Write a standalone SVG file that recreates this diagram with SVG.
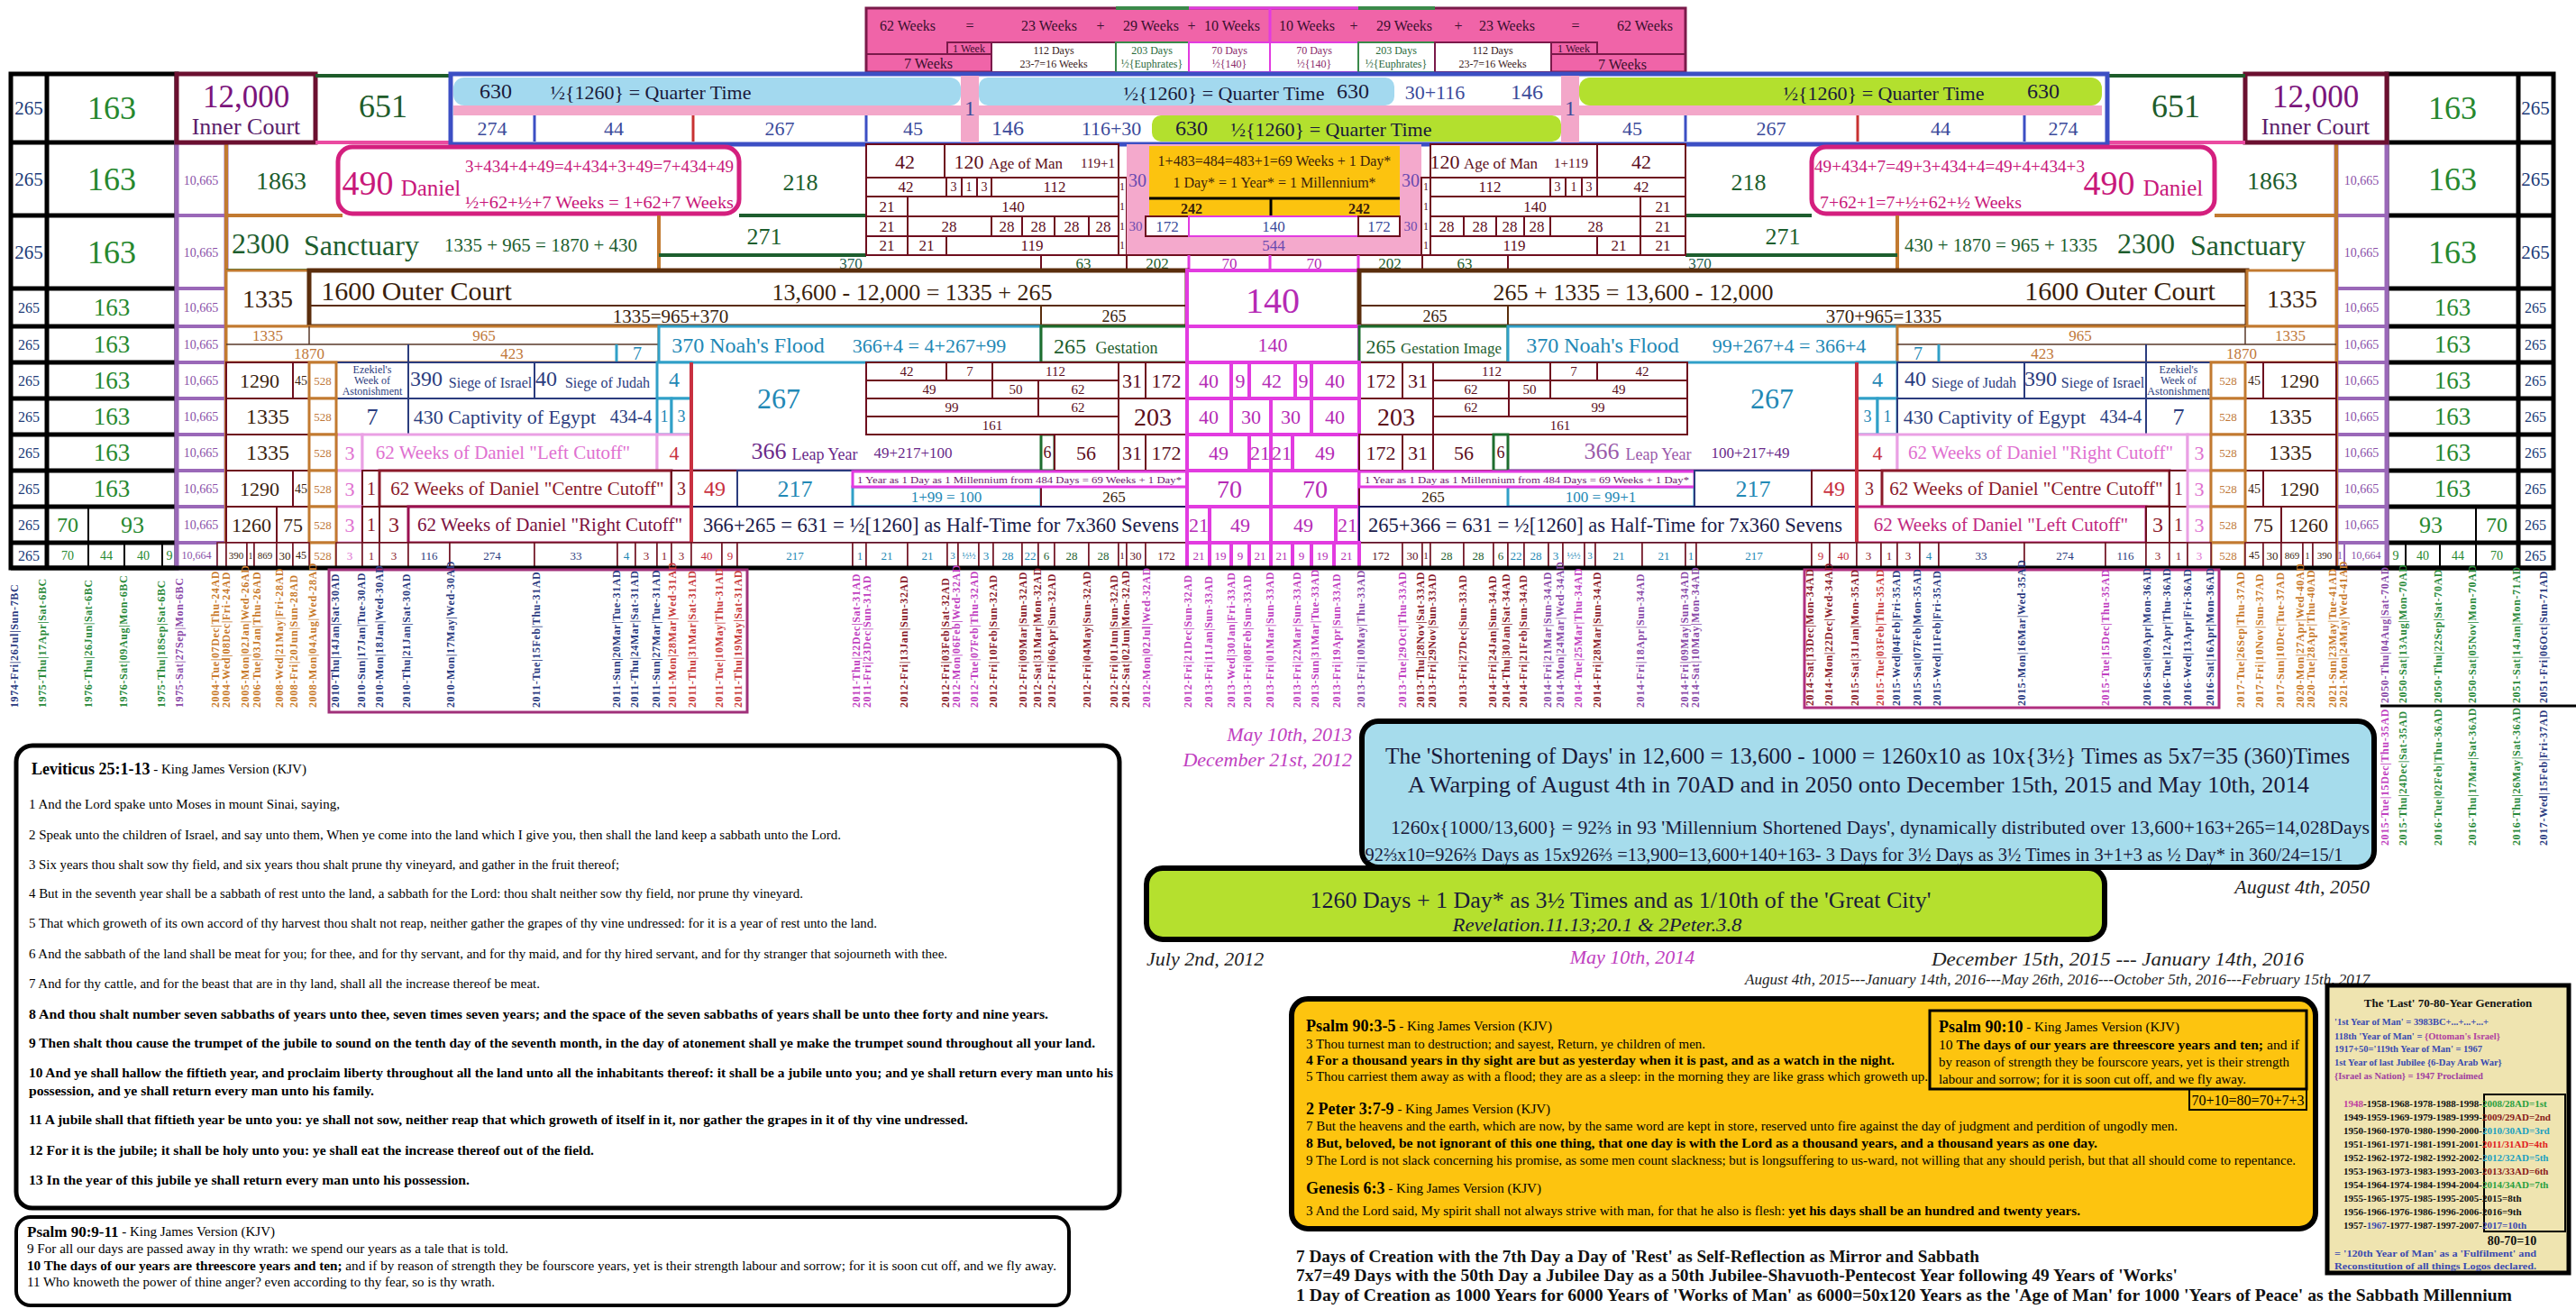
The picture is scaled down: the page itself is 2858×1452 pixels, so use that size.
<svg xmlns="http://www.w3.org/2000/svg" width="2858" height="1452" viewBox="0 0 2858 1452">
<style>
text{font-family:"Liberation Serif","Times New Roman",serif;text-anchor:middle;dominant-baseline:central}
.s,.s text{text-anchor:start}.e,.e text{text-anchor:end}.i{font-style:italic}.bd{font-weight:bold}
.d{fill:#fff;stroke:#6e0e1e;stroke-width:2}
.o{fill:#fff;stroke:#c27a30;stroke-width:3}
.n{fill:#fff;stroke:#2b3c7e;stroke-width:2}
.t{fill:#fff;stroke:#30a0c8;stroke-width:3}
.g{fill:#fff;stroke:#1d6e2e;stroke-width:3}
.m{fill:#fff;stroke:#e23be0;stroke-width:4}
.pk{fill:#fff;stroke:#eaa0e4;stroke-width:3}
.cr{fill:#fff;stroke:#8b1a2a;stroke-width:3}
.c1{fill:#213c78}.c2{fill:#26882e}.pu{fill:#8a50a8}.dg{fill:#1d5e2e}.dr{fill:#5c0d1a}.mg{fill:#b52bb5}
.te{fill:#2288b5}.nv{fill:#2b3c7e}.or{fill:#c0783a}.br{fill:#3a1e0c}.pi{fill:#e070d0}.re{fill:#c83040}
.dk{fill:#1a1a3a}.bl{fill:#3b4a9a}.pb{fill:#6a4ab0}.cc{fill:#8b1a2a}
.dl{font-size:12px;font-weight:bold;letter-spacing:0.6px;text-anchor:start}
.ln{fill:#2a3a80}.lg{fill:#2a8a3a}.lp{fill:#8a4aa8}.lo{fill:#c87a2a}.lm{fill:#c040c0}.ld{fill:#8a1a2a}.lr{fill:#c83a3a}
.bx{stroke:#000;stroke-width:6}
.p15{font-size:15px}
</style>
<rect width="2858" height="1452" fill="#fff"/>

<!-- HEADER -->
<g id="header">
<rect x="961" y="9" width="909" height="71" fill="#f064a8" stroke="#7a1a4a" stroke-width="3"/>
<path d="M1238 9H1319M1507 9H1592" stroke="#3a8a4a" stroke-width="4"/>
<path d="M1319 9H1507M1409 9V80" stroke="#e23be0" stroke-width="3"/>
<g font-size="16" fill="#3a0f2e">
<text x="1007" y="28">62 Weeks</text><text x="1076" y="28">=</text><text x="1164" y="28">23 Weeks</text><text x="1221" y="28">+</text><text x="1277" y="28">29 Weeks</text><text x="1322" y="28">+</text><text x="1367" y="28">10 Weeks</text>
<text x="1450" y="28">10 Weeks</text><text x="1502" y="28">+</text><text x="1558" y="28">29 Weeks</text><text x="1618" y="28">+</text><text x="1672" y="28">23 Weeks</text><text x="1748" y="28">=</text><text x="1825" y="28">62 Weeks</text>
</g>
<path d="M961 60H1100M1721 60H1870" stroke="#7a1a4a" stroke-width="2"/>
<rect x="1051" y="47" width="49" height="13" fill="#f064a8" stroke="#7a1a4a" stroke-width="2"/><text x="1075" y="54" font-size="12" fill="#3a0f2e">1 Week</text>
<rect x="1721" y="47" width="51" height="13" fill="#f064a8" stroke="#7a1a4a" stroke-width="2"/><text x="1746" y="54" font-size="12" fill="#3a0f2e">1 Week</text>
<text x="1030" y="70" font-size="16" fill="#3a0f2e">7 Weeks</text><text x="1800" y="71" font-size="16" fill="#3a0f2e">7 Weeks</text>
<rect x="1100" y="47" width="138" height="33" fill="#fff" stroke="#7a1a4a" stroke-width="2"/>
<rect x="1238" y="47" width="81" height="33" fill="#fff" stroke="#3a8a4a" stroke-width="2"/>
<rect x="1319" y="47" width="90" height="33" fill="#fff" stroke="#e23be0" stroke-width="2"/>
<rect x="1409" y="47" width="98" height="33" fill="#fff" stroke="#e23be0" stroke-width="2"/>
<rect x="1507" y="47" width="85" height="33" fill="#fff" stroke="#3a8a4a" stroke-width="2"/>
<rect x="1592" y="47" width="129" height="33" fill="#fff" stroke="#7a1a4a" stroke-width="2"/>
<g font-size="12">
<text x="1169" y="56" fill="#3a2020">112 Days</text><text x="1169" y="71" fill="#3a2020">23-7=16 Weeks</text>
<text x="1278" y="56" fill="#2a6a3a">203 Days</text><text x="1278" y="71" fill="#2a6a3a">½{Euphrates}</text>
<text x="1364" y="56" fill="#8a2a6a">70 Days</text><text x="1364" y="71" fill="#8a2a6a">½{140}</text>
<text x="1458" y="56" fill="#8a2a6a">70 Days</text><text x="1458" y="71" fill="#8a2a6a">½{140}</text>
<text x="1549" y="56" fill="#2a6a3a">203 Days</text><text x="1549" y="71" fill="#2a6a3a">½{Euphrates}</text>
<text x="1656" y="56" fill="#3a2020">112 Days</text><text x="1656" y="71" fill="#3a2020">23-7=16 Weeks</text>
</g>
</g>

<!-- OUTER LEFT COLUMNS -->
<g id="left-columns">
<rect x="12" y="82" width="184" height="548" fill="#fff" stroke="#000" stroke-width="5"/>
<path d="M52 82V630M12 158H196M12 239H196M12 320H196M12 362H196M12 402H196M12 442H196M12 482H196M12 522H196M12 562H196M12 602H196" stroke="#000" stroke-width="5" fill="none"/>
<path d="M98 562V630M138 602V630M180 602V630" stroke="#000" stroke-width="2"/>
<g class="c1" font-size="21"><text x="32" y="120">265</text><text x="32" y="199">265</text><text x="32" y="280">265</text></g>
<g class="c1" font-size="16"><text x="32" y="341">265</text><text x="32" y="382">265</text><text x="32" y="422">265</text><text x="32" y="462">265</text><text x="32" y="502">265</text><text x="32" y="542">265</text><text x="32" y="582">265</text><text x="32" y="616">265</text></g>
<g class="c2" font-size="36"><text x="124" y="120">163</text><text x="124" y="199">163</text><text x="124" y="280">163</text></g>
<g class="c2" font-size="27"><text x="124" y="341">163</text><text x="124" y="382">163</text><text x="124" y="422">163</text><text x="124" y="462">163</text><text x="124" y="502">163</text><text x="124" y="542">163</text></g>
<text x="75" y="582" font-size="24" class="c2">70</text><text x="147" y="582" font-size="26" class="c2">93</text>
<g class="c2" font-size="14"><text x="75" y="616">70</text><text x="118" y="616">44</text><text x="159" y="616">40</text><text x="188" y="616">9</text></g>
</g>

<!-- OUTER RIGHT COLUMNS -->
<g id="right-columns">
<rect x="2648" y="82" width="185" height="548" fill="#fff" stroke="#000" stroke-width="5"/>
<path d="M2794 82V630M2648 158H2833M2648 239H2833M2648 320H2833M2648 362H2833M2648 402H2833M2648 442H2833M2648 482H2833M2648 522H2833M2648 562H2833M2648 602H2833" stroke="#000" stroke-width="5" fill="none"/>
<path d="M2747 562V630M2669 602V630M2707 602V630" stroke="#000" stroke-width="2"/>
<g class="c1" font-size="21"><text x="2813" y="120">265</text><text x="2813" y="199">265</text><text x="2813" y="280">265</text></g>
<g class="c1" font-size="16"><text x="2813" y="341">265</text><text x="2813" y="382">265</text><text x="2813" y="422">265</text><text x="2813" y="462">265</text><text x="2813" y="502">265</text><text x="2813" y="542">265</text><text x="2813" y="582">265</text><text x="2813" y="616">265</text></g>
<g class="c2" font-size="36"><text x="2721" y="120">163</text><text x="2721" y="199">163</text><text x="2721" y="280">163</text></g>
<g class="c2" font-size="27"><text x="2721" y="341">163</text><text x="2721" y="382">163</text><text x="2721" y="422">163</text><text x="2721" y="462">163</text><text x="2721" y="502">163</text><text x="2721" y="542">163</text></g>
<text x="2697" y="582" font-size="26" class="c2">93</text><text x="2770" y="582" font-size="24" class="c2">70</text>
<g class="c2" font-size="14"><text x="2658" y="616">9</text><text x="2688" y="616">40</text><text x="2727" y="616">44</text><text x="2770" y="616">70</text></g>
</g>

<!-- PURPLE 10,665 COLUMNS -->
<g id="purple-columns">
<rect x="196" y="158" width="55" height="472" fill="#fff" stroke="#9a68b8" stroke-width="5"/>
<rect x="2592" y="158" width="56" height="472" fill="#fff" stroke="#9a68b8" stroke-width="5"/>
<path d="M196 239H251M196 320H251M196 362H251M196 402H251M196 442H251M196 482H251M196 522H251M196 562H251M196 602H251M2592 239H2648M2592 320H2648M2592 362H2648M2592 402H2648M2592 442H2648M2592 482H2648M2592 522H2648M2592 562H2648M2592 602H2648" stroke="#9a68b8" stroke-width="4"/>
<path d="M241 602V630M2601 602V630" stroke="#9a68b8" stroke-width="2"/>
<g class="pu" font-size="14"><text x="223" y="200">10,665</text><text x="223" y="280">10,665</text><text x="223" y="341">10,665</text><text x="223" y="382">10,665</text><text x="223" y="422">10,665</text><text x="223" y="462">10,665</text><text x="223" y="502">10,665</text><text x="223" y="542">10,665</text><text x="223" y="582">10,665</text>
<text x="2620" y="200">10,665</text><text x="2620" y="280">10,665</text><text x="2620" y="341">10,665</text><text x="2620" y="382">10,665</text><text x="2620" y="422">10,665</text><text x="2620" y="462">10,665</text><text x="2620" y="502">10,665</text><text x="2620" y="542">10,665</text><text x="2620" y="582">10,665</text></g>
<g class="pu" font-size="12"><text x="218" y="616">10,664</text><text x="246" y="616">1</text><text x="2596" y="616">1</text><text x="2625" y="616">10,664</text></g>
<path d="M251 158V630M2592 158V630" stroke="#c27a30" stroke-width="4"/>
</g>

<!-- INNER COURT & 651 -->
<g id="inner-court-left">
<rect x="196" y="82" width="154" height="76" fill="#fff" stroke="#6b1030" stroke-width="5"/>
<text x="273" y="107" font-size="35" fill="#7b147b">12,000</text><text x="273" y="140" font-size="26" fill="#5a1c6a">Inner Court</text>
</g>
<g id="n651-left">
<path d="M350 84H500" stroke="#1e5c2a" stroke-width="4"/><path d="M350 158H500" stroke="#ea4aa0" stroke-width="4"/>
<text x="425" y="118" font-size="36" fill="#1e5c2a">651</text>
</g>
<g id="inner-court-right">
<rect x="2491" y="82" width="157" height="76" fill="#fff" stroke="#6b1030" stroke-width="5"/>
<text x="2569" y="107" font-size="35" fill="#7b147b">12,000</text><text x="2569" y="140" font-size="26" fill="#5a1c6a">Inner Court</text>
</g>
<g id="n651-right">
<path d="M2338 84H2491" stroke="#1e5c2a" stroke-width="4"/><path d="M2338 158H2491" stroke="#ea4aa0" stroke-width="4"/>
<text x="2414" y="118" font-size="36" fill="#1e5c2a">651</text>
</g>

<!-- QUARTER TIME BLUE REGION -->
<g id="quarter-time">
<rect x="500" y="82" width="1838" height="78" fill="#fff" stroke="#3c4fc4" stroke-width="5"/>
<rect x="503" y="86" width="563" height="31" rx="12" fill="#a3d9ef"/>
<text x="550" y="101" font-size="24" class="dk">630</text><text x="722" y="102" font-size="22" class="dk">½{1260} = Quarter Time</text>
<rect x="503" y="117" width="563" height="11" fill="#f3a7c9"/>
<path d="M593 128V157M961 128V157" stroke="#3c4fc4" stroke-width="3"/><path d="M769 128V157" stroke="#c83232" stroke-width="3"/>
<g class="bl" font-size="22"><text x="546" y="142">274</text><text x="681" y="142">44</text><text x="865" y="142">267</text><text x="1013" y="142">45</text></g>
<rect x="1066" y="84" width="20" height="74" fill="#f3a7c9"/><text x="1076" y="120" font-size="24" class="bl">1</text>
<rect x="1086" y="86" width="461" height="31" rx="10" fill="#a3d9ef"/>
<text x="1358" y="103" font-size="22" class="dk">½{1260} = Quarter Time</text><text x="1501" y="101" font-size="24" class="dk">630</text>
<text x="1592" y="102" font-size="22" class="bl">30+116</text><text x="1694" y="102" font-size="24" class="bl">146</text>
<rect x="1086" y="117" width="646" height="11" fill="#f3a7c9"/>
<text x="1118" y="142" font-size="24" class="bl">146</text><text x="1233" y="142" font-size="22" class="bl">116+30</text>
<rect x="1278" y="128" width="454" height="29" rx="10" fill="#b3e02e"/>
<text x="1322" y="142" font-size="24" class="dk">630</text><text x="1477" y="143" font-size="22" class="dk">½{1260} = Quarter Time</text>
<rect x="1732" y="84" width="20" height="74" fill="#f3a7c9"/><text x="1742" y="120" font-size="24" class="bl">1</text>
<rect x="1752" y="86" width="580" height="31" rx="12" fill="#b3e02e"/>
<text x="2090" y="103" font-size="22" class="dk">½{1260} = Quarter Time</text><text x="2267" y="101" font-size="24" class="dk">630</text>
<rect x="1752" y="117" width="580" height="11" fill="#f3a7c9"/>
<path d="M1870 128V157M2246 128V157" stroke="#3c4fc4" stroke-width="3"/><path d="M2061 128V157" stroke="#c83232" stroke-width="3"/>
<g class="bl" font-size="22"><text x="1811" y="142">45</text><text x="1965" y="142">267</text><text x="2153" y="142">44</text><text x="2289" y="142">274</text></g>
</g>

<!-- ROW 2-3 LEFT -->
<g id="row2-left">
<text x="312" y="200" font-size="28" class="dg">1863</text>
<path d="M251 239H380" stroke="#c27a30" stroke-width="4"/><path d="M820 239H961" stroke="#1d5e2e" stroke-width="4"/>
<text x="888" y="202" font-size="26" class="dg">218</text>
</g>
<g id="daniel-left">
<rect x="375" y="163" width="445" height="74" rx="16" fill="#fff" stroke="#d41f7e" stroke-width="5"/>
<text x="408" y="203" font-size="38" fill="#c8187a">490</text><text x="478" y="208" font-size="25" fill="#c8187a">Daniel</text>
<text x="665" y="184" font-size="19" fill="#c8187a" textLength="298" lengthAdjust="spacingAndGlyphs">3+434+4+49=4+434+3+49=7+434+49</text>
<text x="665" y="224" font-size="19" fill="#c8187a" textLength="298" lengthAdjust="spacingAndGlyphs">½+62+½+7 Weeks = 1+62+7 Weeks</text>
</g>
<g id="sanctuary-left">
<path d="M731 239V300" stroke="#c27a30" stroke-width="4"/>
<text x="289" y="270" font-size="32" class="dg">2300</text><text x="401" y="272" font-size="32" class="dg">Sanctuary</text>
<text x="600" y="272" font-size="21" class="dg">1335 + 965 = 1870 + 430</text>
<text x="848" y="262" font-size="26" class="dg">271</text>
<path d="M731 283H961" stroke="#1d5e2e" stroke-width="4"/>
<text x="944" y="292" font-size="17" fill="#1d5e4e">370</text>
</g>

<!-- ROW 2-3 RIGHT -->
<g id="row2-right">
<text x="2521" y="200" font-size="28" class="dg">1863</text>
<path d="M2457 239H2592" stroke="#c27a30" stroke-width="4"/><path d="M1870 239H2010" stroke="#1d5e2e" stroke-width="4"/>
<text x="1940" y="202" font-size="26" class="dg">218</text>
</g>
<g id="daniel-right">
<rect x="2010" y="163" width="447" height="74" rx="16" fill="#fff" stroke="#d41f7e" stroke-width="5"/>
<text x="2163" y="184" font-size="19" fill="#c8187a" textLength="300" lengthAdjust="spacingAndGlyphs">49+434+7=49+3+434+4=49+4+434+3</text>
<text x="2131" y="224" font-size="19" fill="#c8187a" textLength="224" lengthAdjust="spacingAndGlyphs">7+62+1=7+½+62+½ Weeks</text>
<text x="2340" y="203" font-size="38" fill="#c8187a">490</text><text x="2411" y="208" font-size="25" fill="#c8187a">Daniel</text>
</g>
<g id="sanctuary-right">
<path d="M2105 239V300" stroke="#c27a30" stroke-width="4"/>
<text x="2220" y="272" font-size="21" class="dg">430 + 1870 = 965 + 1335</text>
<text x="2381" y="270" font-size="32" class="dg">2300</text><text x="2494" y="272" font-size="32" class="dg">Sanctuary</text>
<text x="1978" y="262" font-size="26" class="dg">271</text>
<path d="M1870 283H2105" stroke="#1d5e2e" stroke-width="4"/>
<text x="1886" y="292" font-size="17" fill="#1d5e4e">370</text>
</g>

<!-- AGE OF MAN LEFT -->
<g id="age-of-man-left">
<rect x="961" y="160" width="87" height="37" class="d"/><text x="1004" y="179" font-size="22" class="dr">42</text>
<rect x="1048" y="160" width="193" height="37" class="d"/>
<text x="1075" y="179" font-size="22" class="dr">120</text><text x="1138" y="181" font-size="17" class="dr">Age of Man</text><text x="1218" y="181" font-size="15" class="dr">119+1</text>
<rect x="961" y="197" width="89" height="21" class="d"/><rect x="1050" y="197" width="17" height="21" class="d"/><rect x="1067" y="197" width="17" height="21" class="d"/><rect x="1084" y="197" width="16" height="21" class="d"/><rect x="1100" y="197" width="141" height="21" class="d"/>
<rect x="961" y="218" width="46" height="22" class="d"/><rect x="1007" y="218" width="234" height="22" class="d"/>
<rect x="961" y="240" width="46" height="22" class="d"/><rect x="1007" y="240" width="93" height="22" class="d"/><rect x="1100" y="240" width="34" height="22" class="d"/><rect x="1134" y="240" width="36" height="22" class="d"/><rect x="1170" y="240" width="38" height="22" class="d"/><rect x="1208" y="240" width="33" height="22" class="d"/>
<rect x="961" y="262" width="46" height="21" class="d"/><rect x="1007" y="262" width="43" height="21" class="d"/><rect x="1050" y="262" width="191" height="21" class="d"/>
<rect x="1241" y="197" width="9" height="86" class="d"/>
<g class="dr" font-size="17"><text x="1005" y="207">42</text><text x="1170" y="207">112</text><text x="984" y="229">21</text><text x="1124" y="229">140</text>
<text x="984" y="251">21</text><text x="1053" y="251">28</text><text x="1117" y="251">28</text><text x="1152" y="251">28</text><text x="1189" y="251">28</text><text x="1224" y="251">28</text>
<text x="984" y="272">21</text><text x="1028" y="272">21</text><text x="1145" y="272">119</text></g>
<g class="dr" font-size="14"><text x="1058" y="207">3</text><text x="1075" y="207">1</text><text x="1092" y="207">3</text></g>
<g class="dr" font-size="12"><text x="1245" y="207">1</text><text x="1245" y="229">1</text><text x="1245" y="251">1</text><text x="1245" y="272">1</text></g>
</g>

<!-- CENTER TOP -->
<g id="center-top">
<rect x="1250" y="160" width="327" height="123" fill="#f4a9cc"/>
<text x="1262" y="200" font-size="20" class="pb">30</text><text x="1565" y="200" font-size="20" class="pb">30</text>
<rect x="1275" y="162" width="278" height="78" fill="#fcc30f"/>
<text x="1414" y="178" font-size="16" class="br">1+483=484=483+1=69 Weeks + 1 Day*</text>
<text x="1414" y="202" font-size="16" class="br">1 Day* = 1 Year* = 1 Millennium*</text>
<path d="M1275 220H1553M1410 220V240" stroke="#000" stroke-width="3"/>
<text x="1322" y="231" font-size="16" class="br bd">242</text><text x="1508" y="231" font-size="16" class="br bd">242</text>
<text x="1260" y="251" font-size="15" class="pb">30</text><text x="1565" y="251" font-size="15" class="pb">30</text>
<rect x="1271" y="240" width="48" height="22" class="d"/><text x="1295" y="251" font-size="17" class="bl">172</text>
<rect x="1319" y="240" width="188" height="22" fill="#fff" stroke="#e23be0" stroke-width="2"/><text x="1413" y="251" font-size="17" class="bl">140</text>
<rect x="1507" y="240" width="46" height="22" class="d"/><text x="1530" y="251" font-size="17" class="bl">172</text>
<text x="1413" y="272" font-size="17" class="pb">544</text>
</g>

<!-- AGE OF MAN RIGHT -->
<g id="age-of-man-right">
<rect x="1587" y="160" width="185" height="37" class="d"/>
<text x="1603" y="179" font-size="22" class="dr">120</text><text x="1665" y="181" font-size="17" class="dr">Age of Man</text><text x="1743" y="181" font-size="15" class="dr">1+119</text>
<rect x="1772" y="160" width="98" height="37" class="d"/><text x="1821" y="179" font-size="22" class="dr">42</text>
<rect x="1587" y="197" width="133" height="21" class="d"/><rect x="1720" y="197" width="17" height="21" class="d"/><rect x="1737" y="197" width="18" height="21" class="d"/><rect x="1755" y="197" width="17" height="21" class="d"/><rect x="1772" y="197" width="98" height="21" class="d"/>
<rect x="1587" y="218" width="233" height="22" class="d"/><rect x="1820" y="218" width="50" height="22" class="d"/>
<rect x="1587" y="240" width="37" height="22" class="d"/><rect x="1624" y="240" width="36" height="22" class="d"/><rect x="1660" y="240" width="31" height="22" class="d"/><rect x="1691" y="240" width="29" height="22" class="d"/><rect x="1720" y="240" width="100" height="22" class="d"/><rect x="1820" y="240" width="50" height="22" class="d"/>
<rect x="1587" y="262" width="185" height="21" class="d"/><rect x="1772" y="262" width="48" height="21" class="d"/><rect x="1820" y="262" width="50" height="21" class="d"/>
<rect x="1577" y="197" width="10" height="86" class="d"/>
<g class="dr" font-size="17"><text x="1653" y="207">112</text><text x="1821" y="207">42</text><text x="1703" y="229">140</text><text x="1845" y="229">21</text>
<text x="1605" y="251">28</text><text x="1642" y="251">28</text><text x="1675" y="251">28</text><text x="1705" y="251">28</text><text x="1770" y="251">28</text><text x="1845" y="251">21</text>
<text x="1680" y="272">119</text><text x="1796" y="272">21</text><text x="1845" y="272">21</text></g>
<g class="dr" font-size="14"><text x="1728" y="207">3</text><text x="1746" y="207">1</text><text x="1763" y="207">3</text></g>
<g class="dr" font-size="12"><text x="1582" y="207">1</text><text x="1582" y="229">1</text><text x="1582" y="251">1</text><text x="1582" y="272">1</text></g>
</g>

<!-- STRIP 283-300 -->
<g id="strip-283">
<path d="M961 283H1870M1155 283V300M1250 283V300M1578 283V300M1673 283V300" stroke="#6e0e1e" stroke-width="2"/>
<path d="M1319 283V300M1409 283V300M1507 283V300" stroke="#e23be0" stroke-width="3"/>
<g font-size="17"><text x="1202" y="292" class="dg">63</text><text x="1284" y="292" class="dg">202</text><text x="1364" y="292" class="mg">70</text><text x="1458" y="292" class="mg">70</text><text x="1542" y="292" class="dg">202</text><text x="1625" y="292" class="dg">63</text></g>
</g>

<!-- ROW 4: OUTER COURT -->
<g id="outer-court-left">
<path d="M251 300H343" stroke="#1d6e2e" stroke-width="4"/>
<rect x="251" y="300" width="92" height="62" class="o"/><text x="297" y="331" font-size="28" class="br">1335</text>
<rect x="343" y="300" width="974" height="62" fill="#fff" stroke="#5a2d0c" stroke-width="5"/>
<text x="462" y="322" font-size="30" class="br">1600 Outer Court</text>
<text x="1012" y="324" font-size="26" class="br">13,600 - 12,000 = 1335 + 265</text>
<path d="M343 339H1317M1155 339V362" stroke="#5a2d0c" stroke-width="2"/>
<text x="744" y="351" font-size="21" class="br">1335=965+370</text><text x="1236" y="351" font-size="18" class="br">265</text>
</g>
<g id="center-140">
<rect x="1317" y="300" width="191" height="62" class="m"/><text x="1412" y="333" font-size="40" class="mg">140</text>
</g>
<g id="outer-court-right">
<rect x="1508" y="300" width="985" height="62" fill="#fff" stroke="#5a2d0c" stroke-width="5"/>
<text x="1812" y="324" font-size="26" class="br">265 + 1335 = 13,600 - 12,000</text>
<text x="2352" y="322" font-size="30" class="br">1600 Outer Court</text>
<path d="M1508 339H2493M1673 339V362" stroke="#5a2d0c" stroke-width="2"/>
<text x="1592" y="351" font-size="18" class="br">265</text><text x="2090" y="351" font-size="21" class="br">370+965=1335</text>
<rect x="2493" y="300" width="99" height="62" class="o"/><text x="2543" y="331" font-size="28" class="br">1335</text>
</g>

<!-- ROW 5 -->
<g id="row5-left">
<rect x="251" y="362" width="480" height="40" class="o"/>
<path d="M251 382H731M343 362V382" stroke="#5a3a2a" stroke-width="1.5"/><path d="M453 382V402" stroke="#2b3c7e" stroke-width="2"/><path d="M684 382V402" stroke="#30a0c8" stroke-width="3"/>
<g class="or" font-size="17"><text x="297" y="372">1335</text><text x="537" y="372">965</text><text x="343" y="392">1870</text><text x="568" y="392">423</text></g>
<text x="707" y="392" font-size="20" class="te">7</text>
</g>
<g id="noah-left">
<rect x="731" y="362" width="424" height="40" class="t"/>
<text x="830" y="383" font-size="24" class="te">370 Noah's Flood</text><text x="1031" y="383" font-size="22" class="te">366+4 = 4+267+99</text>
</g>
<g id="gestation-left">
<rect x="1155" y="362" width="162" height="40" class="g"/>
<text x="1187" y="384" font-size="24" class="dg">265</text><text x="1250" y="386" font-size="18" class="dg">Gestation</text>
</g>
<g id="center-140b"><rect x="1317" y="362" width="191" height="40" class="m"/><text x="1412" y="382" font-size="22" class="mg">140</text></g>
<g id="gestation-right">
<rect x="1508" y="362" width="165" height="40" class="g"/>
<text x="1532" y="384" font-size="22" class="dg">265</text><text x="1610" y="386" font-size="17" class="dg">Gestation Image</text>
</g>
<g id="noah-right">
<rect x="1673" y="362" width="432" height="40" class="t"/>
<text x="1778" y="383" font-size="24" class="te">370 Noah's Flood</text><text x="1985" y="383" font-size="22" class="te">99+267+4 = 366+4</text>
</g>
<g id="row5-right">
<rect x="2105" y="362" width="487" height="40" class="o"/>
<path d="M2105 382H2592M2491 362V382" stroke="#5a3a2a" stroke-width="1.5"/><path d="M2381 382V402" stroke="#2b3c7e" stroke-width="2"/><path d="M2151 382V402" stroke="#30a0c8" stroke-width="3"/>
<g class="or" font-size="17"><text x="2308" y="372">965</text><text x="2541" y="372">1335</text><text x="2266" y="392">423</text><text x="2487" y="392">1870</text></g>
<text x="2128" y="392" font-size="20" class="te">7</text>
</g>

<!-- ROWS 6-11 LEFT -->
<g id="rows-left">
<rect x="251" y="402" width="74" height="40" class="d"/><text x="288" y="422" font-size="22" class="br">1290</text>
<rect x="325" y="402" width="18" height="40" class="d"/><text x="334" y="422" font-size="14" class="br">45</text>
<rect x="373" y="402" width="80" height="40" class="n"/>
<g class="nv" font-size="12"><text x="413" y="410">Ezekiel's</text><text x="413" y="422">Week of</text><text x="413" y="434">Astonishment</text></g>
<rect x="453" y="402" width="140" height="40" class="n"/><text x="473" y="420" font-size="24" class="nv">390</text><text x="544" y="424" font-size="16" class="nv">Siege of Israel</text>
<rect x="593" y="402" width="136" height="40" class="n"/><text x="606" y="420" font-size="24" class="nv">40</text><text x="674" y="424" font-size="16" class="nv">Siege of Judah</text>
<rect x="729" y="402" width="38" height="40" class="t"/><text x="748" y="421" font-size="24" class="te">4</text>
<text x="864" y="442" font-size="32" class="te">267</text>

<rect x="251" y="442" width="92" height="40" class="d"/><text x="297" y="462" font-size="24" class="br">1335</text>
<rect x="373" y="442" width="80" height="40" class="n"/><text x="413" y="462" font-size="26" class="nv">7</text>
<rect x="453" y="442" width="276" height="40" class="n"/><text x="560" y="462" font-size="22" class="nv">430 Captivity of Egypt</text><text x="700" y="462" font-size="20" class="nv">434-4</text>
<rect x="729" y="442" width="16" height="40" class="t"/><text x="737" y="462" font-size="18" class="te">1</text>
<rect x="745" y="442" width="22" height="40" class="t"/><text x="756" y="462" font-size="18" class="te">3</text>

<rect x="251" y="482" width="92" height="40" class="d"/><text x="297" y="502" font-size="24" class="br">1335</text>
<rect x="373" y="482" width="29" height="40" class="pk"/><text x="388" y="502" font-size="22" class="pi">3</text>
<rect x="402" y="482" width="327" height="40" class="pk"/><text x="558" y="502" font-size="21" class="pi">62 Weeks of Daniel "Left Cutoff"</text>
<rect x="729" y="482" width="38" height="40" class="pk"/><text x="748" y="502" font-size="22" class="re">4</text>
<path d="M767 522H1155" stroke="#6a2a8a" stroke-width="3"/>
<text x="853" y="500" font-size="26" fill="#6a2a8a">366</text><text x="915" y="504" font-size="18" fill="#6a2a8a">Leap Year</text><text x="1013" y="502" font-size="17" fill="#6a2a8a">49+217+100</text>
<rect x="1155" y="482" width="15" height="40" class="g"/><text x="1162" y="502" font-size="18" class="dr">6</text>
<rect x="1170" y="482" width="71" height="40" class="d"/><text x="1205" y="502" font-size="22" class="dr">56</text>
<rect x="1241" y="482" width="30" height="40" class="d"/><text x="1256" y="502" font-size="22" class="dr">31</text>
<rect x="1271" y="482" width="46" height="40" class="d"/><text x="1294" y="502" font-size="22" class="dr">172</text>

<rect x="251" y="522" width="74" height="40" class="d"/><text x="288" y="542" font-size="22" class="br">1290</text>
<rect x="325" y="522" width="18" height="40" class="d"/><text x="334" y="542" font-size="14" class="br">45</text>
<rect x="373" y="522" width="29" height="40" class="pk"/><text x="388" y="542" font-size="22" class="pi">3</text>
<rect x="402" y="522" width="19" height="40" class="d"/><text x="412" y="542" font-size="20" class="cc">1</text>
<rect x="421" y="522" width="324" height="40" class="cr"/><text x="585" y="542" font-size="21" class="cc">62 Weeks of Daniel "Centre Cutoff"</text>
<rect x="745" y="522" width="22" height="40" class="d"/><text x="756" y="542" font-size="20" class="cc">3</text>
<rect x="767" y="522" width="51" height="40" class="d"/><text x="793" y="542" font-size="24" class="re">49</text>
<rect x="818" y="522" width="128" height="40" fill="#fff" stroke="#2b3c7e" stroke-width="2"/><text x="882" y="542" font-size="26" class="te">217</text>
<rect x="946" y="540" width="209" height="22" class="t"/><text x="1050" y="551" font-size="17" class="te">1+99 = 100</text>
<rect x="1155" y="540" width="162" height="22" class="d"/><text x="1236" y="551" font-size="17" class="br">265</text>
<rect x="946" y="523" width="371" height="17" fill="#fff" stroke="#e23be0" stroke-width="3"/>
<text x="1131" y="532" font-size="11" fill="#6a1a6a" textLength="360" lengthAdjust="spacingAndGlyphs">1 Year as 1 Day as 1 Millennium from 484 Days = 69 Weeks + 1 Day*</text>

<rect x="251" y="562" width="56" height="40" class="d"/><text x="279" y="582" font-size="22" class="br">1260</text>
<rect x="307" y="562" width="36" height="40" class="d"/><text x="325" y="582" font-size="22" class="br">75</text>
<rect x="373" y="562" width="29" height="40" class="pk"/><text x="388" y="582" font-size="22" class="pi">3</text>
<rect x="402" y="562" width="19" height="40" class="d"/><text x="412" y="582" font-size="20" class="cc">1</text>
<rect x="421" y="562" width="32" height="40" class="d"/><text x="437" y="582" font-size="24" class="cc">3</text>
<rect x="453" y="562" width="314" height="40" fill="#fff" stroke="#9a1050" stroke-width="3"/><text x="610" y="582" font-size="21" fill="#7a1040">62 Weeks of Daniel "Right Cutoff"</text>
<rect x="767" y="562" width="550" height="40" fill="#fff" stroke="#1a1a5a" stroke-width="2"/>
<text x="1044" y="582" font-size="23" fill="#1a1a4a" textLength="528" lengthAdjust="spacingAndGlyphs">366+265 = 631 = ½[1260] as Half-Time  for 7x360 Sevens</text>

<rect x="343" y="402" width="30" height="40" class="o"/><rect x="343" y="442" width="30" height="40" class="o"/><rect x="343" y="482" width="30" height="40" class="o"/><rect x="343" y="522" width="30" height="40" class="o"/><rect x="343" y="562" width="30" height="40" class="o"/><rect x="343" y="602" width="30" height="28" class="o"/>
<g class="or" font-size="13"><text x="358" y="422">528</text><text x="358" y="462">528</text><text x="358" y="502">528</text><text x="358" y="542">528</text><text x="358" y="582">528</text><text x="358" y="616">528</text></g>
<path d="M767 402V602" stroke="#c83040" stroke-width="4"/>
</g>

<!-- CENTER SMALL TABLES ROWS 6-7 -->
<g id="table-161-left">
<rect x="961" y="402" width="280" height="80" class="d"/>
<path d="M961 422H1241M961 442H1241M961 462H1241M1050 402V422M1101 402V442M1152 422V462" stroke="#6e0e1e" stroke-width="2"/>
<g class="dr" font-size="15"><text x="1006" y="412">42</text><text x="1076" y="412">7</text><text x="1171" y="412">112</text><text x="1031" y="432">49</text><text x="1127" y="432">50</text><text x="1196" y="432">62</text><text x="1056" y="452">99</text><text x="1196" y="452">62</text><text x="1101" y="472">161</text></g>
<rect x="1241" y="402" width="30" height="40" class="d"/><text x="1256" y="422" font-size="22" class="dr">31</text>
<rect x="1271" y="402" width="46" height="40" class="d"/><text x="1294" y="422" font-size="22" class="dr">172</text>
<rect x="1241" y="442" width="76" height="40" class="d"/><text x="1279" y="462" font-size="28" class="dr">203</text>
</g>
<g id="table-161-right">
<rect x="1508" y="402" width="48" height="40" class="d"/><text x="1532" y="422" font-size="22" class="dr">172</text>
<rect x="1556" y="402" width="34" height="40" class="d"/><text x="1573" y="422" font-size="22" class="dr">31</text>
<rect x="1508" y="442" width="82" height="40" class="d"/><text x="1549" y="462" font-size="28" class="dr">203</text>
<rect x="1590" y="402" width="282" height="80" class="d"/>
<path d="M1590 422H1872M1590 442H1872M1590 462H1872M1720 402V442M1772 402V422M1674 422V462" stroke="#6e0e1e" stroke-width="2"/>
<g class="dr" font-size="15"><text x="1655" y="412">112</text><text x="1746" y="412">7</text><text x="1822" y="412">42</text><text x="1632" y="432">62</text><text x="1697" y="432">50</text><text x="1796" y="432">49</text><text x="1632" y="452">62</text><text x="1773" y="452">99</text><text x="1731" y="472">161</text></g>
<text x="1966" y="442" font-size="32" class="te">267</text>
</g>

<!-- CENTER MAGENTA COLUMN ROWS 6-11 -->
<g id="center-column">
<rect x="1317" y="402" width="49" height="40" class="m"/><rect x="1366" y="402" width="20" height="40" class="m"/><rect x="1386" y="402" width="51" height="40" class="m"/><rect x="1437" y="402" width="18" height="40" class="m"/><rect x="1455" y="402" width="53" height="40" class="m"/>
<rect x="1317" y="442" width="49" height="40" class="m"/><rect x="1366" y="442" width="44" height="40" class="m"/><rect x="1410" y="442" width="45" height="40" class="m"/><rect x="1455" y="442" width="53" height="40" class="m"/>
<rect x="1317" y="482" width="69" height="40" class="m"/><rect x="1386" y="482" width="24" height="40" class="m"/><rect x="1410" y="482" width="24" height="40" class="m"/><rect x="1434" y="482" width="74" height="40" class="m"/>
<rect x="1317" y="522" width="93" height="40" class="m"/><rect x="1410" y="522" width="98" height="40" class="m"/>
<rect x="1317" y="562" width="25" height="40" class="m"/><rect x="1342" y="562" width="68" height="40" class="m"/><rect x="1410" y="562" width="72" height="40" class="m"/><rect x="1482" y="562" width="26" height="40" class="m"/>
<g class="mg" font-size="22">
<text x="1341" y="422">40</text><text x="1376" y="422">9</text><text x="1411" y="422">42</text><text x="1446" y="422">9</text><text x="1481" y="422">40</text>
<text x="1341" y="462">40</text><text x="1388" y="462">30</text><text x="1432" y="462">30</text><text x="1481" y="462">40</text>
<text x="1352" y="502">49</text><text x="1398" y="502">21</text><text x="1422" y="502">21</text><text x="1470" y="502">49</text>
<text x="1330" y="582">21</text><text x="1376" y="582">49</text><text x="1446" y="582">49</text><text x="1495" y="582">21</text>
</g>
<text x="1364" y="542" font-size="28" class="mg">70</text><text x="1459" y="542" font-size="28" class="mg">70</text>
</g>

<!-- ROWS 6-11 RIGHT -->
<g id="rows-right">
<rect x="2060" y="402" width="45" height="40" class="t"/><text x="2083" y="421" font-size="24" class="te">4</text>
<rect x="2105" y="402" width="141" height="40" class="n"/><text x="2125" y="420" font-size="24" class="nv">40</text><text x="2190" y="424" font-size="16" class="nv">Siege of Judah</text>
<rect x="2246" y="402" width="135" height="40" class="n"/><text x="2264" y="420" font-size="24" class="nv">390</text><text x="2333" y="424" font-size="16" class="nv">Siege of Israel</text>
<rect x="2381" y="402" width="72" height="40" class="n"/>
<g class="nv" font-size="12"><text x="2417" y="410">Ezekiel's</text><text x="2417" y="422">Week of</text><text x="2417" y="434" textLength="70" lengthAdjust="spacingAndGlyphs">Astonishment</text></g>
<rect x="2491" y="402" width="20" height="40" class="d"/><text x="2501" y="422" font-size="14" class="br">45</text>
<rect x="2511" y="402" width="81" height="40" class="d"/><text x="2551" y="422" font-size="22" class="br">1290</text>

<rect x="2060" y="442" width="23" height="40" class="t"/><text x="2072" y="462" font-size="18" class="te">3</text>
<rect x="2083" y="442" width="22" height="40" class="t"/><text x="2094" y="462" font-size="18" class="te">1</text>
<rect x="2105" y="442" width="276" height="40" class="n"/><text x="2213" y="462" font-size="22" class="nv">430 Captivity of Egypt</text><text x="2353" y="462" font-size="20" class="nv">434-4</text>
<rect x="2381" y="442" width="72" height="40" class="n"/><text x="2417" y="462" font-size="26" class="nv">7</text>
<rect x="2491" y="442" width="101" height="40" class="d"/><text x="2541" y="462" font-size="24" class="br">1335</text>

<rect x="1508" y="482" width="48" height="40" class="d"/><text x="1532" y="502" font-size="22" class="dr">172</text>
<rect x="1556" y="482" width="34" height="40" class="d"/><text x="1573" y="502" font-size="22" class="dr">31</text>
<rect x="1590" y="482" width="67" height="40" class="d"/><text x="1624" y="502" font-size="22" class="dr">56</text>
<rect x="1657" y="482" width="16" height="40" class="g"/><text x="1665" y="502" font-size="18" class="dr">6</text>
<path d="M1673 522H2060" stroke="#6a2a8a" stroke-width="3"/>
<text x="1777" y="500" font-size="26" fill="#9a5aaa">366</text><text x="1840" y="504" font-size="18" fill="#9a5aaa">Leap Year</text><text x="1942" y="502" font-size="17" fill="#6a2a8a">100+217+49</text>
<rect x="2060" y="482" width="45" height="40" class="pk"/><text x="2083" y="502" font-size="22" class="re">4</text>
<rect x="2105" y="482" width="322" height="40" class="pk"/><text x="2264" y="502" font-size="21" class="pi">62 Weeks of Daniel "Right Cutoff"</text>
<rect x="2427" y="482" width="26" height="40" class="pk"/><text x="2440" y="502" font-size="22" class="pi">3</text>
<rect x="2491" y="482" width="101" height="40" class="d"/><text x="2541" y="502" font-size="24" class="br">1335</text>

<rect x="1508" y="540" width="165" height="22" class="d"/><text x="1590" y="551" font-size="17" class="br">265</text>
<rect x="1673" y="540" width="207" height="22" class="t"/><text x="1776" y="551" font-size="17" class="te">100 = 99+1</text>
<rect x="1508" y="523" width="372" height="17" fill="#fff" stroke="#e23be0" stroke-width="3"/>
<text x="1694" y="532" font-size="11" fill="#6a1a6a" textLength="360" lengthAdjust="spacingAndGlyphs">1 Year as 1 Day as 1 Millennium from 484 Days = 69 Weeks + 1 Day*</text>
<rect x="1880" y="522" width="130" height="40" fill="#fff" stroke="#2b3c7e" stroke-width="2"/><text x="1945" y="542" font-size="26" class="te">217</text>
<rect x="2010" y="522" width="50" height="40" class="d"/><text x="2035" y="542" font-size="24" class="re">49</text>
<rect x="2060" y="522" width="28" height="40" class="d"/><text x="2074" y="542" font-size="20" class="cc">3</text>
<rect x="2088" y="522" width="319" height="40" class="cr"/><text x="2248" y="542" font-size="21" class="cc">62 Weeks of Daniel "Centre Cutoff"</text>
<rect x="2407" y="522" width="20" height="40" class="d"/><text x="2417" y="542" font-size="20" class="cc">1</text>
<rect x="2427" y="522" width="26" height="40" class="pk"/><text x="2440" y="542" font-size="22" class="pi">3</text>
<rect x="2491" y="522" width="20" height="40" class="d"/><text x="2501" y="542" font-size="14" class="br">45</text>
<rect x="2511" y="522" width="81" height="40" class="d"/><text x="2551" y="542" font-size="22" class="br">1290</text>

<rect x="1508" y="562" width="552" height="40" fill="#fff" stroke="#1a1a5a" stroke-width="2"/>
<text x="1781" y="582" font-size="23" fill="#1a1a4a" textLength="526" lengthAdjust="spacingAndGlyphs">265+366 = 631 = ½[1260] as Half-Time  for 7x360 Sevens</text>
<rect x="2060" y="562" width="321" height="40" fill="#fff" stroke="#c02080" stroke-width="3"/><text x="2220" y="582" font-size="21" fill="#c02880">62 Weeks of Daniel "Left Cutoff"</text>
<rect x="2381" y="562" width="26" height="40" class="d"/><text x="2394" y="582" font-size="24" class="cc">3</text>
<rect x="2407" y="562" width="20" height="40" class="d"/><text x="2417" y="582" font-size="20" class="cc">1</text>
<rect x="2427" y="562" width="26" height="40" class="pk"/><text x="2440" y="582" font-size="22" class="pi">3</text>
<rect x="2491" y="562" width="40" height="40" class="d"/><text x="2511" y="582" font-size="22" class="br">75</text>
<rect x="2531" y="562" width="61" height="40" class="d"/><text x="2561" y="582" font-size="22" class="br">1260</text>

<rect x="2453" y="402" width="38" height="40" class="o"/><rect x="2453" y="442" width="38" height="40" class="o"/><rect x="2453" y="482" width="38" height="40" class="o"/><rect x="2453" y="522" width="38" height="40" class="o"/><rect x="2453" y="562" width="38" height="40" class="o"/><rect x="2453" y="602" width="38" height="28" class="o"/>
<g class="or" font-size="13"><text x="2472" y="422">528</text><text x="2472" y="462">528</text><text x="2472" y="502">528</text><text x="2472" y="542">528</text><text x="2472" y="582">528</text><text x="2472" y="616">528</text></g>
<path d="M2060 402V602" stroke="#c83040" stroke-width="4"/>
</g>

<!-- ROW 11 -->
<g id="row11">
<g fill="#fff" stroke="#6e0e1e" stroke-width="1.5">
<rect x="241" y="602" width="10" height="28"/><rect x="251" y="602" width="23" height="28"/><rect x="274" y="602" width="8" height="28"/><rect x="282" y="602" width="25" height="28"/><rect x="307" y="602" width="18" height="28"/><rect x="325" y="602" width="18" height="28"/>
<rect x="373" y="602" width="29" height="28"/><rect x="402" y="602" width="19" height="28"/><rect x="421" y="602" width="32" height="28"/><rect x="453" y="602" width="46" height="28"/><rect x="499" y="602" width="94" height="28"/><rect x="593" y="602" width="92" height="28"/><rect x="685" y="602" width="20" height="28"/><rect x="705" y="602" width="24" height="28"/><rect x="729" y="602" width="16" height="28"/><rect x="745" y="602" width="22" height="28"/><rect x="767" y="602" width="34" height="28"/><rect x="801" y="602" width="17" height="28"/><rect x="818" y="602" width="128" height="28"/><rect x="946" y="602" width="15" height="28"/><rect x="961" y="602" width="46" height="28"/><rect x="1007" y="602" width="44" height="28"/><rect x="1051" y="602" width="12" height="28"/><rect x="1063" y="602" width="23" height="28"/><rect x="1086" y="602" width="16" height="28"/><rect x="1102" y="602" width="32" height="28"/><rect x="1134" y="602" width="18" height="28"/><rect x="1152" y="602" width="18" height="28"/><rect x="1170" y="602" width="38" height="28"/><rect x="1208" y="602" width="33" height="28"/><rect x="1241" y="602" width="9" height="28"/><rect x="1250" y="602" width="21" height="28"/><rect x="1271" y="602" width="46" height="28"/>
<rect x="1508" y="602" width="48" height="28"/><rect x="1556" y="602" width="22" height="28"/><rect x="1578" y="602" width="9" height="28"/><rect x="1587" y="602" width="37" height="28"/><rect x="1624" y="602" width="33" height="28"/><rect x="1657" y="602" width="16" height="28"/><rect x="1673" y="602" width="18" height="28"/><rect x="1691" y="602" width="27" height="28"/><rect x="1718" y="602" width="16" height="28"/><rect x="1734" y="602" width="24" height="28"/><rect x="1758" y="602" width="12" height="28"/><rect x="1770" y="602" width="52" height="28"/><rect x="1822" y="602" width="48" height="28"/><rect x="1870" y="602" width="12" height="28"/><rect x="1882" y="602" width="128" height="28"/><rect x="2010" y="602" width="20" height="28"/><rect x="2030" y="602" width="30" height="28"/><rect x="2060" y="602" width="27" height="28"/><rect x="2087" y="602" width="18" height="28"/><rect x="2105" y="602" width="25" height="28"/><rect x="2130" y="602" width="21" height="28"/><rect x="2151" y="602" width="95" height="28"/><rect x="2246" y="602" width="90" height="28"/><rect x="2336" y="602" width="45" height="28"/><rect x="2381" y="602" width="26" height="28"/><rect x="2407" y="602" width="20" height="28"/><rect x="2427" y="602" width="26" height="28"/><rect x="2491" y="602" width="20" height="28"/><rect x="2511" y="602" width="20" height="28"/><rect x="2531" y="602" width="24" height="28"/><rect x="2555" y="602" width="11" height="28"/><rect x="2566" y="602" width="26" height="28"/>
</g>
<g class="m"><rect x="1317" y="602" width="25" height="28"/><rect x="1342" y="602" width="24" height="28"/><rect x="1366" y="602" width="20" height="28"/><rect x="1386" y="602" width="24" height="28"/><rect x="1410" y="602" width="24" height="28"/><rect x="1434" y="602" width="21" height="28"/><rect x="1455" y="602" width="25" height="28"/><rect x="1480" y="602" width="28" height="28"/></g>
<g font-size="13">
<text x="262" y="616" class="br" font-size="11">390</text><text x="278" y="616" class="br" font-size="10">1</text><text x="294" y="616" class="br" font-size="11">869</text><text x="316" y="616" class="br">30</text><text x="334" y="616" class="br" font-size="12">45</text>
<text x="388" y="616" class="pi">3</text><text x="412" y="616" class="cc">1</text><text x="437" y="616" class="cc">3</text><text x="476" y="616" class="nv">116</text><text x="546" y="616" class="nv">274</text><text x="639" y="616" class="nv">33</text><text x="695" y="616" class="te">4</text><text x="717" y="616" class="cc">3</text><text x="737" y="616" class="cc">1</text><text x="756" y="616" class="cc">3</text><text x="784" y="616" class="re">40</text><text x="810" y="616" class="re">9</text><text x="882" y="616" class="te">217</text>
<text x="954" y="616" class="te">1</text><text x="984" y="616" class="te">21</text><text x="1029" y="616" class="te">21</text><text x="1057" y="616" class="te" font-size="11">3</text><text x="1075" y="616" class="te" font-size="10">½½</text><text x="1094" y="616" class="te">3</text><text x="1118" y="616" class="te">28</text><text x="1143" y="616" class="te">22</text><text x="1161" y="616" class="dg">6</text><text x="1189" y="616" class="dg">28</text><text x="1224" y="616" class="dg">28</text><text x="1245" y="616" class="dr" font-size="11">1</text><text x="1260" y="616" class="dr">30</text><text x="1294" y="616" class="dr">172</text>
<text x="1330" y="616" class="mg">21</text><text x="1354" y="616" class="mg">19</text><text x="1376" y="616" class="mg">9</text><text x="1398" y="616" class="mg">21</text><text x="1422" y="616" class="mg">21</text><text x="1444" y="616" class="mg">9</text><text x="1467" y="616" class="mg">19</text><text x="1494" y="616" class="mg">21</text>
<text x="1532" y="616" class="dr">172</text><text x="1567" y="616" class="dr">30</text><text x="1582" y="616" class="dr" font-size="11">1</text><text x="1605" y="616" class="dg">28</text><text x="1640" y="616" class="dg">28</text><text x="1665" y="616" class="dg">6</text><text x="1682" y="616" class="te">22</text><text x="1704" y="616" class="te">28</text><text x="1726" y="616" class="te">3</text><text x="1746" y="616" class="te" font-size="10">½½</text><text x="1764" y="616" class="te" font-size="11">3</text><text x="1796" y="616" class="te">21</text><text x="1846" y="616" class="te">21</text><text x="1876" y="616" class="te">1</text>
<text x="1946" y="616" class="te">217</text><text x="2020" y="616" class="re">9</text><text x="2045" y="616" class="re">40</text><text x="2073" y="616" class="cc">3</text><text x="2096" y="616" class="cc">1</text><text x="2117" y="616" class="cc">3</text><text x="2140" y="616" class="te">4</text><text x="2198" y="616" class="nv">33</text><text x="2291" y="616" class="nv">274</text><text x="2358" y="616" class="nv">116</text><text x="2394" y="616" class="cc">3</text><text x="2417" y="616" class="cc">1</text><text x="2440" y="616" class="pi">3</text>
<text x="2501" y="616" class="br" font-size="12">45</text><text x="2521" y="616" class="br">30</text><text x="2543" y="616" class="br" font-size="11">869</text><text x="2560" y="616" class="br" font-size="10">1</text><text x="2579" y="616" class="br" font-size="11">390</text>
</g>
<path d="M12 630H2833" stroke="#000" stroke-width="5"/>
</g>

<!-- DATE LABELS -->
<g id="date-labels">
<rect x="365" y="632" width="464" height="158" fill="none" stroke="#a0307a" stroke-width="3"/>
<rect x="2002" y="632" width="460" height="153" fill="none" stroke="#b03080" stroke-width="3"/>
<path d="M2641 783H2858" stroke="#000" stroke-width="3"/>
<text class="dl ln" transform="translate(16,785) rotate(-90)">1974-Fri|26Jul|Sun-7BC</text>
<text class="dl lg" transform="translate(47,785) rotate(-90)">1975-Thu|17Apr|Sat-6BC</text>
<text class="dl lg" transform="translate(98,785) rotate(-90)">1976-Thu|26Jun|Sat-6BC</text>
<text class="dl lg" transform="translate(137,785) rotate(-90)">1976-Sat|09Aug|Mon-6BC</text>
<text class="dl lg" transform="translate(179,785) rotate(-90)">1975-Thu|18Sep|Sat-6BC</text>
<text class="dl lp" transform="translate(199,785) rotate(-90)">1975-Sat|27Sep|Mon-6BC</text>
<text class="dl lo" transform="translate(239,785) rotate(-90)">2004-Tue|07Dec|Thu-24AD</text>
<text class="dl lo" transform="translate(251,785) rotate(-90)">2004-Wed|08Dec|Fri-24AD</text>
<text class="dl lo" transform="translate(272,785) rotate(-90)">2005-Mon|02Jan|Wed-26AD</text>
<text class="dl lo" transform="translate(285,785) rotate(-90)">2006-Tue|03Jan|Thu-26AD</text>
<text class="dl lo" transform="translate(310,785) rotate(-90)">2008-Wed|21May|Fri-28AD</text>
<text class="dl lo" transform="translate(326,785) rotate(-90)">2008-Fri|20Jun|Sun-28AD</text>
<text class="dl lo" transform="translate(347,785) rotate(-90)">2008-Mon|04Aug|Wed-28AD</text>
<text class="dl ln" transform="translate(372,785) rotate(-90)">2010-Thu|14Jan|Sat-30AD</text>
<text class="dl ln" transform="translate(401,785) rotate(-90)">2010-Sun|17Jan|Tue-30AD</text>
<text class="dl ln" transform="translate(421,785) rotate(-90)">2010-Mon|18Jan|Wed-30AD</text>
<text class="dl ln" transform="translate(451,785) rotate(-90)">2010-Thu|21Jan|Sat-30AD</text>
<text class="dl ln" transform="translate(500,785) rotate(-90)">2010-Mon|17May|Wed-30AD</text>
<text class="dl ln" transform="translate(595,785) rotate(-90)">2011-Tue|15Feb|Thu-31AD</text>
<text class="dl ln" transform="translate(684,785) rotate(-90)">2011-Sun|20Mar|Tue-31AD</text>
<text class="dl ln" transform="translate(704,785) rotate(-90)">2011-Thu|24Mar|Sat-31AD</text>
<text class="dl ln" transform="translate(728,785) rotate(-90)">2011-Sun|27Mar|Tue-31AD</text>
<text class="dl lr" transform="translate(746,785) rotate(-90)">2011-Mon|28Mar|Wed-31AD</text>
<text class="dl lr" transform="translate(768,785) rotate(-90)">2011-Thu|31Mar|Sat-31AD</text>
<text class="dl lr" transform="translate(798,785) rotate(-90)">2011-Tue|10May|Thu-31AD</text>
<text class="dl lr" transform="translate(819,785) rotate(-90)">2011-Thu|19May|Sat-31AD</text>
<text class="dl lm" transform="translate(950,785) rotate(-90)">2011-Thu|22Dec|Sat-31AD</text>
<text class="dl lm" transform="translate(962,785) rotate(-90)">2011-Fri|23Dec|Sun-31AD</text>
<text class="dl ld" transform="translate(1003,785) rotate(-90)">2012-Fri|13Jan|Sun-32AD</text>
<text class="dl ld" transform="translate(1049,785) rotate(-90)">2012-Fri|03Feb|Sat-32AD</text>
<text class="dl lm" transform="translate(1061,785) rotate(-90)">2012-Mon|06Feb|Wed-32AD</text>
<text class="dl lm" transform="translate(1081,785) rotate(-90)">2012-Tue|07Feb|Thu-32AD</text>
<text class="dl ld" transform="translate(1102,785) rotate(-90)">2012-Fri|10Feb|Sun-32AD</text>
<text class="dl ld" transform="translate(1135,785) rotate(-90)">2012-Fri|09Mar|Sun-32AD</text>
<text class="dl ld" transform="translate(1151,785) rotate(-90)">2012-Sat|31Mar|Mon-32AD</text>
<text class="dl ld" transform="translate(1167,785) rotate(-90)">2012-Fri|06Apr|Sun-32AD</text>
<text class="dl ld" transform="translate(1206,785) rotate(-90)">2012-Fri|04May|Sun-32AD</text>
<text class="dl ld" transform="translate(1236,785) rotate(-90)">2012-Fri|01Jun|Sun-32AD</text>
<text class="dl ld" transform="translate(1249,785) rotate(-90)">2012-Sat|02Jun|Mon-32AD</text>
<text class="dl lm" transform="translate(1272,785) rotate(-90)">2012-Mon|02Jul|Wed-32AD</text>
<text class="dl lm" transform="translate(1318,785) rotate(-90)">2012-Fri|21Dec|Sun-32AD</text>
<text class="dl lm" transform="translate(1341,785) rotate(-90)">2013-Fri|11Jan|Sun-33AD</text>
<text class="dl lm" transform="translate(1366,785) rotate(-90)">2013-Wed|30Jan|Fri-33AD</text>
<text class="dl lm" transform="translate(1384,785) rotate(-90)">2013-Fri|08Feb|Sun-33AD</text>
<text class="dl lm" transform="translate(1409,785) rotate(-90)">2013-Fri|01Mar|Sun-33AD</text>
<text class="dl lm" transform="translate(1439,785) rotate(-90)">2013-Fri|22Mar|Sun-33AD</text>
<text class="dl lm" transform="translate(1459,785) rotate(-90)">2013-Sun|31Mar|Tue-33AD</text>
<text class="dl lm" transform="translate(1483,785) rotate(-90)">2013-Fri|19Apr|Sun-33AD</text>
<text class="dl lp" transform="translate(1510,785) rotate(-90)">2013-Fri|10May|Thu-33AD</text>
<text class="dl lm" transform="translate(1556,785) rotate(-90)">2013-Tue|29Oct|Thu-33AD</text>
<text class="dl ld" transform="translate(1576,785) rotate(-90)">2013-Thu|28Nov|Sat-33AD</text>
<text class="dl ld" transform="translate(1589,785) rotate(-90)">2013-Fri|29Nov|Sun-33AD</text>
<text class="dl ld" transform="translate(1623,785) rotate(-90)">2013-Fri|27Dec|Sun-33AD</text>
<text class="dl ld" transform="translate(1656,785) rotate(-90)">2014-Fri|24Jan|Sun-34AD</text>
<text class="dl ld" transform="translate(1671,785) rotate(-90)">2014-Thu|30Jan|Sat-34AD</text>
<text class="dl ld" transform="translate(1690,785) rotate(-90)">2014-Fri|21Feb|Sun-34AD</text>
<text class="dl lp" transform="translate(1717,785) rotate(-90)">2014-Fri|21Mar|Sun-34AD</text>
<text class="dl lp" transform="translate(1731,785) rotate(-90)">2014-Mon|24Mar|Wed-34AD</text>
<text class="dl lm" transform="translate(1751,785) rotate(-90)">2014-Tue|25Mar|Thu-34AD</text>
<text class="dl ld" transform="translate(1772,785) rotate(-90)">2014-Fri|28Mar|Sun-34AD</text>
<text class="dl lp" transform="translate(1820,785) rotate(-90)">2014-Fri|18Apr|Sun-34AD</text>
<text class="dl lp" transform="translate(1869,785) rotate(-90)">2014-Fri|09May|Sun-34AD</text>
<text class="dl lp" transform="translate(1881,785) rotate(-90)">2014-Sat|10May|Mon-34AD</text>
<text class="dl ld" transform="translate(2008,783) rotate(-90)">2014-Sat|13Dec|Mon-34AD</text>
<text class="dl ld" transform="translate(2029,783) rotate(-90)">2014-Mon|22Dec|Wed-34AD</text>
<text class="dl ld" transform="translate(2058,783) rotate(-90)">2015-Sat|31Jan|Mon-35AD</text>
<text class="dl lr" transform="translate(2086,783) rotate(-90)">2015-Tue|03Feb|Thu-35AD</text>
<text class="dl ln" transform="translate(2104,783) rotate(-90)">2015-Wed|04Feb|Fri-35AD</text>
<text class="dl ln" transform="translate(2127,783) rotate(-90)">2015-Sat|07Feb|Mon-35AD</text>
<text class="dl ln" transform="translate(2149,783) rotate(-90)">2015-Wed|11Feb|Fri-35AD</text>
<text class="dl ln" transform="translate(2243,783) rotate(-90)">2015-Mon|16Mar|Wed-35AD</text>
<text class="dl lm" transform="translate(2336,783) rotate(-90)">2015-Tue|15Dec|Thu-35AD</text>
<text class="dl ln" transform="translate(2382,783) rotate(-90)">2016-Sat|09Apr|Mon-36AD</text>
<text class="dl ln" transform="translate(2404,783) rotate(-90)">2016-Tue|12Apr|Thu-36AD</text>
<text class="dl ln" transform="translate(2427,783) rotate(-90)">2016-Wed|13Apr|Fri-36AD</text>
<text class="dl ln" transform="translate(2452,783) rotate(-90)">2016-Sat|16Apr|Mon-36AD</text>
<text class="dl lo" transform="translate(2486,785) rotate(-90)">2017-Tue|26Sep|Thu-37AD</text>
<text class="dl lo" transform="translate(2507,785) rotate(-90)">2017-Fri|10Nov|Sun-37AD</text>
<text class="dl lo" transform="translate(2530,785) rotate(-90)">2017-Sun|10Dec|Tue-37AD</text>
<text class="dl lo" transform="translate(2552,785) rotate(-90)">2020-Mon|27Apr|Wed-40AD</text>
<text class="dl lo" transform="translate(2564,785) rotate(-90)">2020-Tue|28Apr|Thu-40AD</text>
<text class="dl lo" transform="translate(2588,785) rotate(-90)">2021-Sun|23May|Tue-41AD</text>
<text class="dl lo" transform="translate(2600,785) rotate(-90)">2021-Mon|24May|Wed-41AD</text>
<text class="dl lp" transform="translate(2646,780) rotate(-90)">2050-Thu|04Aug|Sat-70AD</text>
<text class="dl lg" transform="translate(2666,780) rotate(-90)">2050-Sat|13Aug|Mon-70AD</text>
<text class="dl lg" transform="translate(2705,780) rotate(-90)">2050-Thu|22Sep|Sat-70AD</text>
<text class="dl lg" transform="translate(2743,780) rotate(-90)">2050-Sat|05Nov|Mon-70AD</text>
<text class="dl lg" transform="translate(2792,780) rotate(-90)">2051-Sat|14Jan|Mon-71AD</text>
<text class="dl ln" transform="translate(2822,780) rotate(-90)">2051-Fri|06Oct|Sun-71AD</text>
<text class="dl lm" transform="translate(2646,938) rotate(-90)">2015-Tue|15Dec|Thu-35AD</text>
<text class="dl lg" transform="translate(2666,938) rotate(-90)">2015-Thu|24Dec|Sat-35AD</text>
<text class="dl lg" transform="translate(2705,938) rotate(-90)">2016-Tue|02Feb|Thu-36AD</text>
<text class="dl lg" transform="translate(2743,938) rotate(-90)">2016-Thu|17Mar|Sat-36AD</text>
<text class="dl lg" transform="translate(2792,938) rotate(-90)">2016-Thu|26May|Sat-36AD</text>
<text class="dl ln" transform="translate(2822,938) rotate(-90)">2017-Wed|15Feb|Fri-37AD</text>
</g>

<!-- LEVITICUS -->
<g id="leviticus">
<rect x="18" y="827" width="1224" height="513" rx="18" fill="#fff" stroke="#000" stroke-width="5"/>
<text x="35" y="853" class="s"><tspan font-size="18" font-weight="bold">Leviticus 25:1-13</tspan><tspan font-size="15"> - King James Version (KJV)</tspan></text>
<g class="s" font-size="15">
<text x="32" y="892" textLength="345" lengthAdjust="spacingAndGlyphs">1 And the Lord spake unto Moses in mount Sinai, saying,</text>
<text x="32" y="926" textLength="901" lengthAdjust="spacingAndGlyphs">2 Speak unto the children of Israel, and say unto them, When ye come into the land which I give you, then shall the land keep a sabbath unto the Lord.</text>
<text x="32" y="959" textLength="655" lengthAdjust="spacingAndGlyphs">3 Six years thou shalt sow thy field, and six years thou shalt prune thy vineyard, and gather in the fruit thereof;</text>
<text x="32" y="991" textLength="859" lengthAdjust="spacingAndGlyphs">4 But in the seventh year shall be a sabbath of rest unto the land, a sabbath for the Lord: thou shalt neither sow thy field, nor prune thy vineyard.</text>
<text x="32" y="1024" textLength="941" lengthAdjust="spacingAndGlyphs">5 That which groweth of its own accord of thy harvest thou shalt not reap, neither gather the grapes of thy vine undressed: for it is a year of rest unto the land.</text>
<text x="32" y="1058" textLength="1019" lengthAdjust="spacingAndGlyphs">6 And the sabbath of the land shall be meat for you; for thee, and for thy servant, and for thy maid, and for thy hired servant, and for thy stranger that sojourneth with thee.</text>
<text x="32" y="1091" textLength="567" lengthAdjust="spacingAndGlyphs">7 And for thy cattle, and for the beast that are in thy land, shall all the increase thereof be meat.</text>
</g>
<g class="s bd" font-size="15.5">
<text x="32" y="1124" textLength="1131" lengthAdjust="spacingAndGlyphs">8 And thou shalt number seven sabbaths of years unto thee, seven times seven years; and the space of the seven sabbaths of years shall be unto thee forty and nine years.</text>
<text x="32" y="1156" textLength="1183" lengthAdjust="spacingAndGlyphs">9 Then shalt thou cause the trumpet of the jubile to sound on the tenth day of the seventh month, in the day of atonement shall ye make the trumpet sound throughout all your land.</text>
<text x="32" y="1189" textLength="1203" lengthAdjust="spacingAndGlyphs">10 And ye shall hallow the fiftieth year, and proclaim liberty throughout all the land unto all the inhabitants thereof: it shall be a jubile unto you; and ye shall return every man unto his</text>
<text x="32" y="1209" textLength="383" lengthAdjust="spacingAndGlyphs">possession, and ye shall return every man unto his family.</text>
<text x="32" y="1241" textLength="1042" lengthAdjust="spacingAndGlyphs">11 A jubile shall that fiftieth year be unto you: ye shall not sow, neither reap that which groweth of itself in it, nor gather the grapes in it of thy vine undressed.</text>
<text x="32" y="1275" textLength="627" lengthAdjust="spacingAndGlyphs">12 For it is the jubile; it shall be holy unto you: ye shall eat the increase thereof out of the field.</text>
<text x="32" y="1308" textLength="489" lengthAdjust="spacingAndGlyphs">13 In the year of this jubile ye shall return every man unto his possession.</text>
</g>
</g>

<!-- PSALM 90:9-11 -->
<g id="psalm-90-9">
<rect x="18" y="1350" width="1168" height="98" rx="16" fill="#fff" stroke="#000" stroke-width="4"/>
<text x="30" y="1366" class="s"><tspan font-size="17" font-weight="bold">Psalm 90:9-11</tspan><tspan font-size="15"> - King James Version (KJV)</tspan></text>
<text x="30" y="1385" class="s p15" textLength="534" lengthAdjust="spacingAndGlyphs">9 For all our days are passed away in thy wrath: we spend our years as a tale that is told.</text>
<text x="30" y="1404" class="s p15" textLength="1142" lengthAdjust="spacingAndGlyphs"><tspan font-weight="bold">10 The days of our years are threescore years and ten;</tspan> and if by reason of strength they be fourscore years, yet is their strength labour and sorrow; for it is soon cut off, and we fly away.</text>
<text x="30" y="1422" class="s p15" textLength="519" lengthAdjust="spacingAndGlyphs">11 Who knoweth the power of thine anger? even according to thy fear, so is thy wrath.</text>
</g>

<!-- DATES AROUND BOXES -->
<g id="dates" class="i" font-size="22">
<text x="1500" y="814" class="e" fill="#c040c0">May 10th, 2013</text>
<text x="1500" y="842" class="e" fill="#c040c0">December 21st, 2012</text>
<text x="2629" y="983" class="e" fill="#222">August 4th, 2050</text>
<text x="1272" y="1063" class="s" fill="#222">July 2nd, 2012</text>
<text x="1811" y="1061" fill="#c040c0">May 10th, 2014</text>
<text x="2143" y="1063" class="s" fill="#222" textLength="413" lengthAdjust="spacingAndGlyphs">December 15th, 2015  --- January 14th, 2016</text>
<text x="1936" y="1086" class="s" fill="#222" font-size="16" textLength="693" lengthAdjust="spacingAndGlyphs">August 4th, 2015---January 14th, 2016---May 26th, 2016---October 5th, 2016---February 15th, 2017</text>
</g>

<!-- SHORTENING OF DAYS BOX -->
<g id="shortening-box">
<rect x="1511" y="800" width="1123" height="162" rx="18" fill="#a6dcec" class="bx"/>
<text x="2072" y="838" font-size="25" class="dk" textLength="1070" lengthAdjust="spacingAndGlyphs">The 'Shortening of Days' in   12,600 = 13,600 - 1000 = 1260x10 as 10x{3½} Times as 5x7=35 (360)Times</text>
<text x="2062" y="870" font-size="25" class="dk" textLength="1000" lengthAdjust="spacingAndGlyphs">A Warping of August 4th in 70AD and in 2050 onto December 15th, 2015 and May 10th, 2014</text>
<text x="2086" y="918" font-size="20" class="dk" textLength="1086" lengthAdjust="spacingAndGlyphs">1260x{1000/13,600} = 92⅔  in 93 'Millennium Shortened Days', dynamically distributed over 13,600+163+265=14,028Days</text>
<text x="2057" y="948" font-size="20" class="dk" textLength="1085" lengthAdjust="spacingAndGlyphs">92⅔x10=926⅔ Days as 15x926⅔ =13,900=13,600+140+163- 3 Days for 3½ Days as 3½ Times in 3+1+3 as ½ Day* in 360/24=15/1</text>
</g>

<!-- GREAT CITY BOX -->
<g id="great-city-box">
<rect x="1272" y="963" width="1063" height="79" rx="18" fill="#b5e02e" class="bx"/>
<text x="1798" y="998" font-size="25" class="dk" textLength="689" lengthAdjust="spacingAndGlyphs">1260 Days + 1 Day* as 3½ Times and as 1/10th of the 'Great City'</text>
<text x="1772" y="1026" font-size="21" class="dk i" textLength="321" lengthAdjust="spacingAndGlyphs">Revelation.11.13;20.1 &amp; 2Peter.3.8</text>
</g>

<!-- YELLOW SCRIPTURE BOX -->
<g id="scripture-box">
<rect x="1433" y="1108" width="1136" height="255" rx="18" fill="#fdc40f" class="bx"/>
<g class="s">
<text x="1449" y="1138"><tspan font-size="18" font-weight="bold">Psalm 90:3-5</tspan><tspan font-size="15"> - King James Version (KJV)</tspan></text>
<text x="1449" y="1158" class="p15" textLength="443" lengthAdjust="spacingAndGlyphs">3 Thou turnest man to destruction; and sayest, Return, ye children of men.</text>
<text x="1449" y="1176" class="p15 bd" textLength="653" lengthAdjust="spacingAndGlyphs">4 For a thousand years in thy sight are but as yesterday when it is past, and as a watch in the night.</text>
<text x="1449" y="1194" class="p15" textLength="690" lengthAdjust="spacingAndGlyphs">5 Thou carriest them away as with a flood; they are as a sleep: in the morning they are like grass which groweth up.</text>
<text x="1449" y="1230"><tspan font-size="18" font-weight="bold">2 Peter 3:7-9</tspan><tspan font-size="15"> - King James Version (KJV)</tspan></text>
<text x="1449" y="1249" class="p15" textLength="967" lengthAdjust="spacingAndGlyphs">7 But the heavens and the earth, which are now, by the same word are kept in store, reserved unto fire against the day of judgment and perdition of ungodly men.</text>
<text x="1449" y="1268" class="p15 bd" textLength="878" lengthAdjust="spacingAndGlyphs">8 But, beloved, be not ignorant of this one thing, that one day is with the Lord as a thousand years, and a thousand years as one day.</text>
<text x="1449" y="1287" class="p15" textLength="1098" lengthAdjust="spacingAndGlyphs">9 The Lord is not slack concerning his promise, as some men count slackness; but is longsuffering to us-ward, not willing that any should perish, but that all should come to repentance.</text>
<text x="1449" y="1318"><tspan font-size="18" font-weight="bold">Genesis 6:3</tspan><tspan font-size="15"> - King James Version (KJV)</tspan></text>
<text x="1449" y="1343" class="p15" textLength="859" lengthAdjust="spacingAndGlyphs">3 And the Lord said, My spirit shall not always strive with man, for that he also is flesh: <tspan font-weight="bold">yet his days shall be an hundred and twenty years.</tspan></text>
</g>
</g>
<g id="psalm-90-10">
<rect x="2141" y="1121" width="418" height="87" fill="none" stroke="#000" stroke-width="3"/>
<g class="s">
<text x="2151" y="1139"><tspan font-size="18" font-weight="bold">Psalm 90:10</tspan><tspan font-size="15"> - King James Version (KJV)</tspan></text>
<text x="2151" y="1159" class="p15" textLength="400" lengthAdjust="spacingAndGlyphs">10 <tspan font-weight="bold">The days of our years are threescore years and ten;</tspan> and if</text>
<text x="2151" y="1178" class="p15" textLength="389" lengthAdjust="spacingAndGlyphs">by reason of strength they be fourscore years, yet is their strength</text>
<text x="2151" y="1197" class="p15" textLength="341" lengthAdjust="spacingAndGlyphs">labour and sorrow; for it is soon cut off, and we fly away.</text>
</g>
</g>
<g id="eighty-box">
<rect x="2429" y="1208" width="130" height="23" fill="none" stroke="#000" stroke-width="2"/>
<text x="2494" y="1220" font-size="16">70+10=80=70+7+3</text>
</g>

<!-- BOTTOM LINES -->
<g id="creation-lines" class="s bd" font-size="19" fill="#111">
<text x="1438" y="1393" textLength="758" lengthAdjust="spacingAndGlyphs">7 Days of Creation with the 7th Day a Day of 'Rest' as Self-Reflection as Mirror and Sabbath</text>
<text x="1438" y="1414" textLength="978" lengthAdjust="spacingAndGlyphs">7x7=49 Days with the 50th Day a Jubilee Day as a 50th Jubilee-Shavuoth-Pentecost  Year following 49 Years of 'Works'</text>
<text x="1438" y="1436" textLength="1349" lengthAdjust="spacingAndGlyphs">1 Day of Creation as 1000 Years for 6000 Years of  'Works of Man'  as 6000=50x120 Years as the 'Age of Man' for 1000 'Years of Peace' as the Sabbath Millennium</text>
</g>

<!-- GENERATION TABLE -->
<g id="generation-table">
<rect x="2582" y="1093" width="268" height="319" fill="#efe4b0" stroke="#000" stroke-width="5"/>
<text x="2716" y="1112" font-size="13" font-weight="bold" fill="#111">The 'Last' 70-80-Year Generation</text>
<g class="s" font-size="10.5" font-weight="bold">
<text x="2590" y="1133" fill="#3a4ab0">'1st Year of Man' = 3983BC+...+...+...+</text>
<text x="2590" y="1149" fill="#3a4ab0">118th 'Year of Man' = <tspan fill="#b040a0">{Ottoman's Israel}</tspan></text>
<text x="2590" y="1163" fill="#3a4ab0">1917+50='119th Year of Man' = 1967</text>
<text x="2590" y="1178" fill="#3a4ab0">1st Year of last Jubilee {6-Day Arab War}</text>
<text x="2590" y="1193" fill="#a040a0">{Israel as Nation} = 1947 Proclaimed</text>
</g>
<rect x="2756" y="1214" width="90" height="152" fill="none" stroke="#000" stroke-width="2"/>
<g class="s" font-size="11" font-weight="bold" fill="#111">
<text x="2600" y="1224"><tspan fill="#c040a0">1948</tspan>-1958-1968-1978-1988-1998-<tspan fill="#2aa040">2008/28AD=1st</tspan></text>
<text x="2600" y="1239">1949-1959-1969-1979-1989-1999-<tspan fill="#8a1a1a">2009/29AD=2nd</tspan></text>
<text x="2600" y="1254">1950-1960-1970-1980-1990-2000-<tspan fill="#20a0c0">2010/30AD=3rd</tspan></text>
<text x="2600" y="1269">1951-1961-1971-1981-1991-2001-<tspan fill="#e02020">2011/31AD=4th</tspan></text>
<text x="2600" y="1284">1952-1962-1972-1982-1992-2002-<tspan fill="#20a0c0">2012/32AD=5th</tspan></text>
<text x="2600" y="1299">1953-1963-1973-1983-1993-2003-<tspan fill="#8a1a1a">2013/33AD=6th</tspan></text>
<text x="2600" y="1314">1954-1964-1974-1984-1994-2004-<tspan fill="#2aa040">2014/34AD=7th</tspan></text>
<text x="2600" y="1329">1955-1965-1975-1985-1995-2005-2015=8th</text>
<text x="2600" y="1344">1956-1966-1976-1986-1996-2006-2016=9th</text>
<text x="2600" y="1359">1957-<tspan fill="#3a4ab0">1967</tspan>-1977-1987-1997-2007-<tspan fill="#3a4ab0">2017=10th</tspan></text>
</g>
<text x="2787" y="1376" font-size="14" font-weight="bold" fill="#111">80-70=10</text>
<text x="2590" y="1390" class="s" font-size="10.5" font-weight="bold" fill="#3a4ab0" textLength="224" lengthAdjust="spacingAndGlyphs">= '120th Year of Man' as a 'Fulfilment' and</text>
<text x="2590" y="1404" class="s" font-size="10.5" font-weight="bold" fill="#3a4ab0" textLength="224" lengthAdjust="spacingAndGlyphs">Reconstitution of all things Logos declared.</text>
</g>
</svg>
